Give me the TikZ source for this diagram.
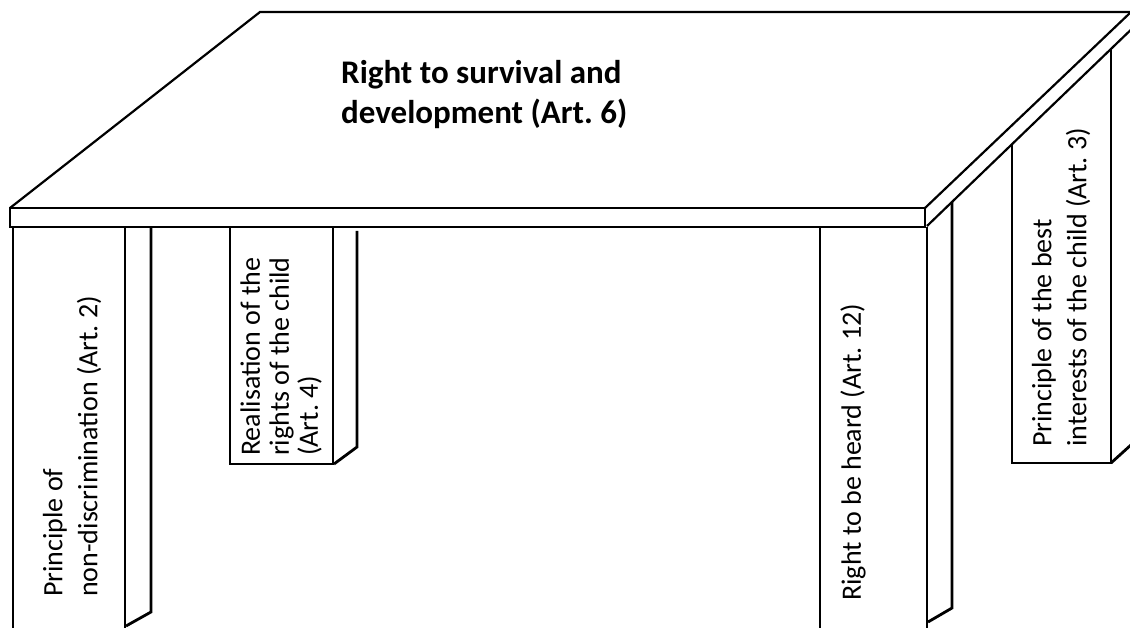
\documentclass[tikz,border=0pt]{standalone}
\usepackage{fontspec}
\setmainfont{Carlito}
\begin{document}
\begin{tikzpicture}[x=1pt,y=-1pt,
  edge/.style={line width=2.2pt, line join=miter, line cap=butt},
  legline/.style={line width=2.8pt, line cap=butt},
  leglabel/.style={rotate=90, anchor=west, inner sep=0pt, align=left,
    font=\fontsize{28}{35}\selectfont},
  titlelabel/.style={anchor=north west, inner sep=0pt, align=left,
    font=\bfseries\fontsize{33}{40}\selectfont}]
\useasboundingbox (0,0) rectangle (1130,628);
\begin{scope}
\clip (0,0) rectangle (1130,628);
% table top
\coordinate (fl) at (10,208);
\coordinate (bl) at (260,12);
\coordinate (br) at (1131,12);
\coordinate (fr) at (925,208);
\coordinate (slabbr) at (925,227);
\draw[edge] (fl) -- (bl) -- (br);
\draw[edge] (fr) -- (br);
\draw[edge] (fl) rectangle (slabbr);
\draw[edge] (927,226) -- (1140,21);
% leg 1 front-left
\draw[legline] (13,227) -- (13,640);
\draw[legline] (125,227) -- (125,640);
\draw[legline] (151,227) -- (151,612) -- (126,626);
% leg 2 back-left
\draw[legline] (230,227) -- (230,464) -- (333,464) -- (333,227);
\draw[legline] (357,231) -- (357,447) -- (334,464);
% leg 3 front-right
\draw[legline] (820,227) -- (820,640);
\draw[legline] (927,227) -- (927,640);
\draw[legline] (952,202) -- (952,608) -- (928,622);
% leg 4 back-right
\draw[legline] (1012,144) -- (1012,463) -- (1111,463) -- (1111,49);
\draw[legline] (1111,463) -- (1132,444);
\end{scope}
% labels
\node[titlelabel] (top) at (341,60) {Right to survival and\\development (Art.~6)};
\node[leglabel] (l1) at (72,597) {Principle of\\non-discrimination (Art.~2)};
\node[leglabel, font=\fontsize{28}{29}\selectfont] (l2) at (281,456) {Realisation of the\\rights of the child\\(Art.~4)};
\node[leglabel] (l3) at (853,601) {Right to be heard (Art.~12)};
\node[leglabel] (l4) at (1061,447) {Principle of the best\\interests of the child (Art.~3)};
\end{tikzpicture}
\end{document}
